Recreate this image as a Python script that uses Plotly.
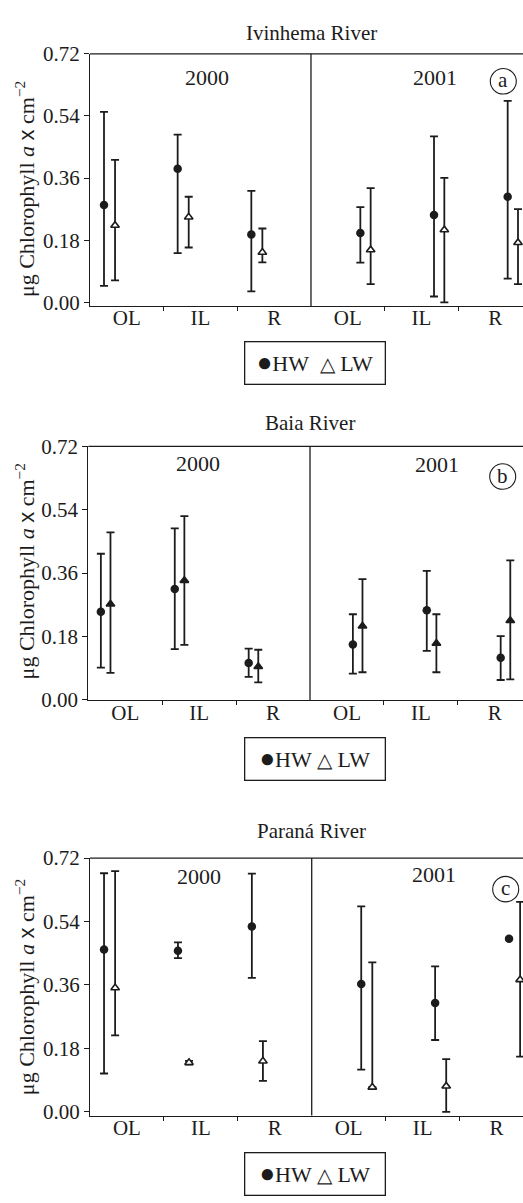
import plotly.graph_objects as go

# ---------------- data ----------------
categories = ["OL", "IL", "R", "OL", "IL", "R"]
years = ["2000", "2001"]
rivers = ["Ivinhema River", "Baia River", "Paraná River"]
panel_letters = ["a", "b", "c"]

# Ivinhema River (OL, IL, R in 2000 then OL, IL, R in 2001)
ivi_hw_mean = [0.282, 0.387, 0.197, 0.201, 0.253, 0.306]
ivi_hw_upper = [0.552, 0.486, 0.323, 0.276, 0.481, 0.584]
ivi_hw_lower = [0.048, 0.143, 0.032, 0.115, 0.017, 0.069]
ivi_lw_mean = [0.223, 0.247, 0.145, 0.152, 0.210, 0.173]
ivi_lw_upper = [0.413, 0.306, 0.214, 0.331, 0.361, 0.270]
ivi_lw_lower = [0.064, 0.159, 0.116, 0.053, 0.000, 0.053]

# Baia River
bai_hw_mean = [0.250, 0.315, 0.104, 0.157, 0.254, 0.119]
bai_hw_upper = [0.415, 0.487, 0.145, 0.243, 0.366, 0.181]
bai_hw_lower = [0.091, 0.144, 0.065, 0.074, 0.139, 0.056]
bai_lw_mean = [0.272, 0.339, 0.094, 0.209, 0.160, 0.225]
bai_lw_upper = [0.476, 0.522, 0.142, 0.343, 0.243, 0.396]
bai_lw_lower = [0.076, 0.156, 0.049, 0.078, 0.078, 0.058]

# Paraná River
par_hw_mean = [0.461, 0.457, 0.526, 0.363, 0.309, 0.491]
par_hw_upper = [0.677, 0.481, 0.676, 0.583, 0.413, 0.491]
par_hw_lower = [0.109, 0.436, 0.380, 0.120, 0.204, 0.491]
par_lw_mean = [0.352, 0.140, 0.144, 0.070, 0.073, 0.375]
par_lw_upper = [0.683, 0.145, 0.201, 0.424, 0.150, 0.596]
par_lw_lower = [0.217, 0.134, 0.088, 0.070, 0.000, 0.157]

y_tick_vals = [0.00, 0.18, 0.36, 0.54, 0.72]

# ---------------- layout constants ----------------
W, H = 523, 1203
FONT = "Liberation Serif, Times New Roman, serif"
INK = "#1c1c1c"


def px_x(x):
    return x / W


def px_y(y):
    return 1 - y / H


BULLET = '<span style="font-size:26px">●</span>'
TRI = '<span style="font-size:20px">△</span>'

panels = [
    dict(hw=(ivi_hw_mean, ivi_hw_upper, ivi_hw_lower), lw=(ivi_lw_mean, ivi_lw_upper, ivi_lw_lower),
         left=90, top=42.7, bottom=300, yr=(-0.0105, 0.72), xr=(-0.5, 5.378),
         off2000=(-0.31, -0.16), off2001=(0.17, 0.31), lw_fill="white",
         title_y=21.7, title_x=311.7, year_pos=[(206.7, 66.7), (435, 67)],
         circ=(503.3, 70.7), ytitle_y=180.7, legend_y=358,
         legend_text=BULLET + "HW  " + TRI + " LW"),
    dict(hw=(bai_hw_mean, bai_hw_upper, bai_hw_lower), lw=(bai_lw_mean, bai_lw_upper, bai_lw_lower),
         left=88.3, top=443.3, bottom=702.3, yr=(-0.0017, 0.72), xr=(-0.5, 5.382),
         off2000=(-0.33, -0.20), off2001=(0.08, 0.21), lw_fill=INK,
         title_y=419.3, title_x=310, year_pos=[(198.3, 460.7), (436.7, 461.7)],
         circ=(502.7, 474), ytitle_y=570.8, legend_y=762.5,
         legend_text=BULLET + "HW " + TRI + " LW"),
    dict(hw=(par_hw_mean, par_hw_upper, par_hw_lower), lw=(par_lw_mean, par_lw_upper, par_lw_lower),
         left=90, top=863.3, bottom=1126, yr=(-0.0103, 0.72), xr=(-0.5, 5.359),
         off2000=(-0.31, -0.16), off2001=(0.17, 0.32), lw_fill="white",
         title_y=835.7, title_x=311.7, year_pos=[(199, 881.7), (434.3, 880)],
         circ=(505.7, 895), ytitle_y=995, legend_y=1185.5,
         legend_text=BULLET + "HW " + TRI + " LW"),
]

fig = go.Figure()
layout = dict(width=W, height=H, margin=dict(l=0, r=0, t=0, b=0),
              paper_bgcolor="white", plot_bgcolor="white", showlegend=False,
              font=dict(family=FONT, size=21, color=INK))
annotations = []
shapes = []

for k, p in enumerate(panels):
    sfx = "" if k == 0 else str(k + 1)
    xa, ya = "x" + sfx, "y" + sfx
    idx = list(range(len(categories)))
    hw_x = [i + (p["off2000"][0] if i < 3 else p["off2001"][0]) for i in idx]
    lw_x = [i + (p["off2000"][1] if i < 3 else p["off2001"][1]) for i in idx]

    for (mean, up, lo), xs, is_hw in [(p["hw"], hw_x, True), (p["lw"], lw_x, False)]:
        plus = [u - m for u, m in zip(up, mean)]
        minus = [m - l for m, l in zip(mean, lo)]
        if is_hw:
            marker = dict(symbol="circle", size=8.5, color=INK, line=dict(width=0))
        else:
            marker = dict(symbol="triangle-up", size=7.5, color=p["lw_fill"],
                          line=dict(color=INK, width=1.6))
        fig.add_trace(go.Scatter(
            x=xs, y=mean, mode="markers", xaxis=xa, yaxis=ya,
            name="HW" if is_hw else "LW", marker=marker,
            error_y=dict(type="data", symmetric=False, array=plus, arrayminus=minus,
                         color=INK, thickness=1.8, width=4),
        ))

    dom_x = [px_x(p["left"]), 1.0]
    dom_y = [px_y(p["bottom"]), px_y(p["top"])]
    layout["xaxis" + sfx] = dict(
        domain=dom_x, range=list(p["xr"]), anchor=ya, showgrid=False, zeroline=False,
        showline=True, linecolor=INK, linewidth=1.3,
        tickmode="array", tickvals=idx, ticktext=categories, ticks="",
        ticklabelstandoff=-7,
        tickfont=dict(size=21, family=FONT, color=INK),
        minor=dict(tickmode="array", tickvals=[0.5, 1.5, 3.5, 4.5], ticks="outside",
                   ticklen=4, tickwidth=1.3, tickcolor=INK, showgrid=False),
    )
    layout["yaxis" + sfx] = dict(
        domain=dom_y, range=list(p["yr"]), anchor=xa, showgrid=False, zeroline=False,
        showline=True, linecolor=INK, linewidth=1.3,
        tickmode="array", tickvals=y_tick_vals, tickformat=".2f",
        ticks="outside", ticklen=5, tickwidth=1.3, tickcolor=INK,
        tickfont=dict(size=21, family=FONT, color=INK),
    )
    # top border and year divider
    shapes.append(dict(type="line", xref="paper", yref="paper",
                       x0=dom_x[0], x1=1.0, y0=dom_y[1], y1=dom_y[1],
                       line=dict(color=INK, width=1.3)))
    shapes.append(dict(type="line", xref=xa, yref=ya + " domain",
                       x0=2.5, x1=2.5, y0=0, y1=1, line=dict(color=INK, width=1.3)))
    # panel letter circle
    cx, cy = p["circ"]
    shapes.append(dict(type="circle", xref="paper", yref="paper",
                       x0=px_x(cx - 13), x1=px_x(cx + 13), y0=px_y(cy + 13), y1=px_y(cy - 13),
                       line=dict(color=INK, width=1.1)))
    annotations.append(dict(text=panel_letters[k], x=px_x(cx), y=px_y(cy - 1), xref="paper", yref="paper",
                            showarrow=False, xanchor="center", yanchor="middle",
                            font=dict(size=21, family=FONT, color=INK)))
    # river title
    annotations.append(dict(text=rivers[k], x=px_x(p["title_x"]), y=px_y(p["title_y"]),
                            xref="paper", yref="paper", showarrow=False,
                            xanchor="center", yanchor="middle",
                            font=dict(size=21, family=FONT, color=INK)))
    # year labels
    for yr_txt, (yx, yy) in zip(years, p["year_pos"]):
        annotations.append(dict(text=yr_txt, x=px_x(yx), y=px_y(yy), xref="paper", yref="paper",
                                showarrow=False, xanchor="center", yanchor="middle",
                                font=dict(size=22, family=FONT, color=INK)))
    # y-axis title
    annotations.append(dict(
        text='μg Chlorophyll <i>a</i> <span style="font-family:Liberation Sans, Arial">x</span> cm<sup>−2</sup>',
        x=px_x(25), y=px_y(p["ytitle_y"]), xref="paper", yref="paper",
        showarrow=False, textangle=-90, xanchor="center", yanchor="middle",
        font=dict(size=22, family=FONT, color=INK)))
    # legend box
    annotations.append(dict(text=p["legend_text"], x=px_x(314.5), y=px_y(p["legend_y"]),
                            xref="paper", yref="paper", showarrow=False,
                            xanchor="center", yanchor="middle", width=137, height=39,
                            bordercolor=INK, borderwidth=1.3, bgcolor="white",
                            font=dict(size=22, family=FONT, color=INK)))

layout["annotations"] = annotations
layout["shapes"] = shapes
fig.update_layout(**layout)
fig.write_html("out.html")
